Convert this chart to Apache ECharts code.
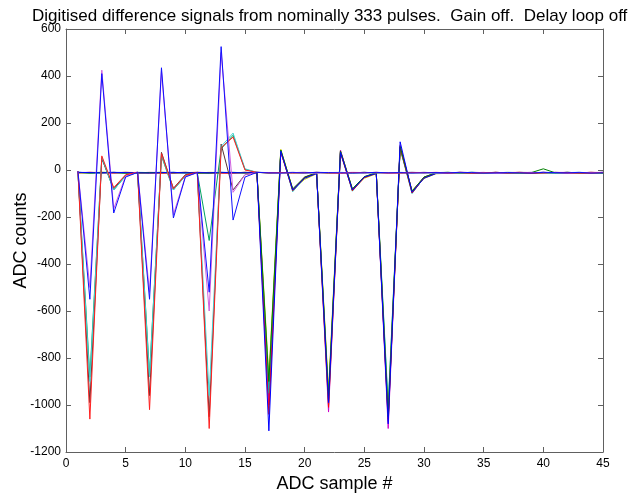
<!DOCTYPE html>
<html>
<head>
<meta charset="utf-8">
<script src="https://cdn.jsdelivr.net/npm/echarts@6/dist/echarts.min.js"></script>
<style>
html,body{margin:0;padding:0;background:#fff;}
#chart{width:632px;height:495px;}
</style>
</head>
<body>
<div id="chart"></div>
<script>
// ADC sample numbers 1..45
const samples = [1,2,3,4,5,6,7,8,9,10,11,12,13,14,15,16,17,18,19,20,21,22,23,24,25,26,27,28,29,30,31,32,33,34,35,36,37,38,39,40,41,42,43,44,45];

// Early-pulse group (large negative dips at 2, 7, 12)
const redA   = [-5,-1060,60,-75,-20,-10,-1020,70,-80,-22,-10,-1100,95,140,0,-10,-12,-11,-13,-12,-10,-12,-14,-11,-12,-10,-13,-12,-11,-12,-10,-12,-11,-13,-12,-10,-12,-11,-13,-12,-10,-11,-12,-13,-11];
const cyanA  = [-6,-900,55,-85,-25,-11,-880,65,-85,-25,-12,-960,100,157,5,-10,-11,-12,-10,-13,-12,-11,-10,-12,-13,-11,-12,-10,-12,-11,-13,-11,-12,-10,-13,-12,-11,-12,-10,-12,-13,-11,-10,-12,-12];
const darkA  = [-5,-990,50,-80,-22,-12,-960,75,-78,-20,-10,-1050,110,-85,-20,-10,-13,-12,-11,-10,-12,-13,-11,-12,-10,-12,-11,-13,-12,-10,-12,-13,-10,-12,-11,-12,-13,-11,-12,-10,-12,-11,-13,-12,-10];
const greenA = [-8,-880,50,-85,-25,-10,-870,60,-85,-25,-12,-300,90,148,2,-10,-12,-11,-12,-13,-10,-12,-11,-12,-10,-13,-12,-11,-10,-12,-11,-10,-12,-13,-11,-12,-10,-11,-12,-12,-13,-10,-12,-11,-12];
// Bipolar group (dip then large positive peak at 3, 8, 13)
const blueB  = [-5,-550,410,-183,-30,-10,-550,435,-204,-30,-10,-520,525,-213,-30,-10,-12,-13,-11,-12,-10,-11,-12,-13,-12,-10,-12,-11,-13,-12,-11,-12,-10,-11,-13,-12,-11,-12,-13,-10,-11,-12,-10,-13,-12];
const magB   = [-6,-500,425,-165,-25,-8,-520,420,-190,-28,-12,-600,500,-95,-20,-10,-11,-12,-10,-12,-13,-11,-12,-10,-11,-12,-13,-12,-10,-11,-12,-13,-11,-12,-10,-14,-12,-11,-10,-12,-11,-13,-12,-11,-10];
// Late-pulse group (dips at 17, 22, 27)
const blueC  = [-10,-11,-12,-10,-11,-12,-13,-11,-10,-12,-11,-12,-10,-11,-12,-10,-1110,80,-85,-35,-15,-990,75,-85,-30,-15,-1080,120,-95,-35,-15,-12,-11,-13,-12,-14,-12,-11,-12,-10,-13,-12,-11,-12,-10];
const greenC = [-11,-12,-10,-11,-13,-12,-11,-10,-12,-11,-13,-12,-11,-10,-12,-11,-900,85,-80,-30,-12,-960,80,-80,-28,-12,-1050,100,-90,-30,-12,-10,-13,-11,-12,-10,-12,-13,-11,5,-12,-10,-12,-11,-13];
const redC   = [-12,-10,-11,-12,-10,-11,-12,-13,-11,-10,-12,-11,-13,-12,-10,-12,-1040,78,-88,-32,-14,-1010,72,-88,-32,-14,-1060,95,-98,-33,-14,-12,-10,-11,-13,-12,-11,-10,-12,-12,-11,-13,-12,-10,-11];
const cyanC  = [-10,-12,-13,-11,-12,-10,-11,-12,-10,-13,-11,-12,-10,-12,-11,-13,-950,82,-92,-34,-13,-1000,78,-90,-30,-13,-1000,90,-100,-32,-13,-11,-12,-10,-12,-11,-13,-12,-11,-13,-10,-12,-11,-12,-13];
const magC   = [-11,-10,-12,-13,-11,-12,-10,-11,-13,-12,-10,-11,-12,-13,-11,-10,-1000,75,-84,-30,-12,-1030,85,-84,-29,-12,-1100,105,-92,-30,-12,-13,-11,-12,-14,-10,-12,-11,-13,-12,-11,-10,-12,-13,-11];
const yelC   = [-12,-11,-10,-12,-11,-13,-12,-10,-11,-12,-13,-10,-11,-12,-13,-12,-880,88,-82,-40,-16,-940,82,-82,-35,-16,-1030,100,-88,-36,-16,-14,-12,-13,-15,-12,-14,-13,-12,-14,-13,-12,-14,-13,-12];
const blackC = [-10,-12,-11,-10,-13,-11,-12,-11,-12,-10,-12,-13,-11,-12,-10,-11,-980,80,-86,-33,-13,-980,80,-86,-31,-13,-1070,98,-94,-34,-13,-11,-12,-10,-11,-13,-12,-10,-11,-12,-13,-11,-12,-10,-12];
const olivC  = [-11,-13,-12,-11,-10,-12,-11,-13,-12,-11,-10,-12,-11,-13,-12,-11,-920,84,-83,-31,-14,-970,79,-83,-30,-14,-1020,92,-91,-31,-14,-13,-11,-12,-13,-11,-12,-14,-12,-11,-12,-13,-11,-12,-14];

const seriesDefs = [
  ['olivC', olivC, '#808000'],
  ['blackC', blackC, '#333333'],
  ['yelC', yelC, '#c8c800'],
  ['magC', magC, '#cc00cc'],
  ['cyanC', cyanC, '#00b8b8'],
  ['redC', redC, '#ff0000'],
  ['greenC', greenC, '#008000'],
  ['blueC', blueC, '#0000ff'],
  ['greenA', greenA, '#00a060'],
  ['darkA', darkA, '#553333'],
  ['cyanA', cyanA, '#40d0d0'],
  ['magB', magB, '#d060e0'],
  ['redA', redA, '#ff2020'],
  ['blueB', blueB, '#1010ff']
];

const xTicks = [0,5,10,15,20,25,30,35,40,45];
const yTicks = [-1200,-1000,-800,-600,-400,-200,0,200,400,600];

const chart = echarts.init(document.getElementById('chart'), null, {renderer:'canvas'});
const font = 'Liberation Sans, Arial, Helvetica, sans-serif';
const axisLine = {show:true, onZero:false, lineStyle:{color:'#606060', width:1}};
const tickIn = {show:true, inside:true, length:5, lineStyle:{color:'#606060'}};
const plain = function(v){ return String(v); };

chart.setOption({
  animation:false,
  backgroundColor:'#fff',
  title:{
    text:'Digitised difference signals from nominally 333 pulses.  Gain off.  Delay loop off',
    left:27, top:3,
    textStyle:{fontFamily:font, fontSize:17, fontWeight:'normal', color:'#000'}
  },
  grid:{left:66, right:29, top:29, bottom:43, containLabel:false, outerBoundsMode:'none'},
  xAxis:[{
    type:'value', min:xTicks[0], max:xTicks[xTicks.length-1], interval:5,
    name:'ADC sample #', nameLocation:'middle', nameGap:23, nameMoveOverlap:false,
    nameTextStyle:{fontFamily:font, fontSize:18, color:'#000'},
    axisLine:axisLine, axisTick:tickIn, splitLine:{show:false},
    axisLabel:{fontFamily:font, fontSize:12, color:'#000', margin:6, formatter:plain}
  },{
    type:'value', position:'top', min:0, max:45, interval:5,
    axisLine:axisLine, axisTick:tickIn, splitLine:{show:false}, axisLabel:{show:false}
  }],
  yAxis:[{
    type:'value', min:yTicks[0], max:yTicks[yTicks.length-1], interval:200,
    name:'ADC counts', nameLocation:'middle', nameGap:36, nameMoveOverlap:false,
    nameTextStyle:{fontFamily:font, fontSize:18, color:'#000'},
    axisLine:axisLine, axisTick:tickIn, splitLine:{show:false},
    axisLabel:{fontFamily:font, fontSize:12, color:'#000', margin:5, formatter:plain}
  },{
    type:'value', position:'right', min:-1200, max:600, interval:200,
    axisLine:axisLine, axisTick:tickIn, splitLine:{show:false}, axisLabel:{show:false}
  }],
  series: seriesDefs.map(function(d){
    return {
      name:d[0], type:'line', symbol:'none', silent:true,
      data: samples.map(function(x,i){return [x, d[1][i]];}),
      lineStyle:{color:d[2], width:1},
      itemStyle:{color:d[2]}
    };
  })
});
</script>
</body>
</html>
